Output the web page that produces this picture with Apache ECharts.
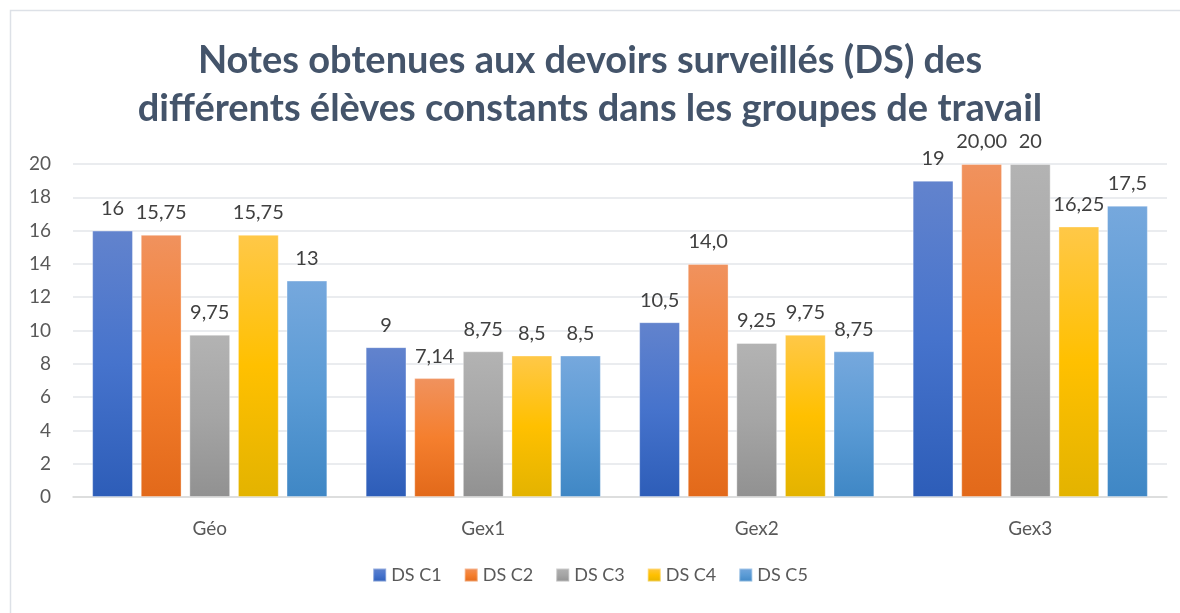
<!DOCTYPE html>
<html>
<head>
<meta charset="utf-8">
<script src="https://cdn.jsdelivr.net/npm/echarts@6/dist/echarts.min.js"></script>
<style>
  html, body { margin: 0; padding: 0; background: #fff; }
  #chart { width: 1180px; height: 613px; }
</style>
</head>
<body>
<div id="chart"></div>
<script>
const categories = ['Géo', 'Gex1', 'Gex2', 'Gex3']
const seriesNames = ['DS C1', 'DS C2', 'DS C3', 'DS C4', 'DS C5']
const dsC1 = [16, 9, 10.5, 19]
const dsC2 = [15.75, 7.14, 14.0, 20.0]
const dsC3 = [9.75, 8.75, 9.25, 20]
const dsC4 = [15.75, 8.5, 9.75, 16.25]
const dsC5 = [13, 8.5, 8.75, 17.5]
// labels as printed on the chart
const labC1 = ['16', '9', '10,5', '19']
const labC2 = ['15,75', '7,14', '14,0', '20,00']
const labC3 = ['9,75', '8,75', '9,25', '20']
const labC4 = ['15,75', '8,5', '9,75', '16,25']
const labC5 = ['13', '8,5', '8,75', '17,5']
const yTicks = [0, 2, 4, 6, 8, 10, 12, 14, 16, 18, 20]

const values = [dsC1, dsC2, dsC3, dsC4, dsC5]
const labels = [labC1, labC2, labC3, labC4, labC5]

// top / middle / bottom of each bar gradient
const gradients = [
  ['#6283CD', '#4673CC', '#2D5DB8'],
  ['#F0925E', '#F57F2E', '#E2691A'],
  ['#B3B3B3', '#A5A5A5', '#919191'],
  ['#FFC848', '#FFC000', '#E3B300'],
  ['#76A8DD', '#5B9BD5', '#3F87C5'],
]
const legendColors = ['#4472C4', '#ED7D31', '#A5A5A5', '#FFC000', '#5B9BD5']

const chart = echarts.init(document.getElementById('chart'), null, { renderer: 'canvas' })

const series = seriesNames.map((name, i) => ({
  name,
  type: 'bar',
  data: values[i],
  barGap: '19%',
  barCategoryGap: '14%',
  itemStyle: {
    color: new echarts.graphic.LinearGradient(0, 0, 0, 1, [
      { offset: 0, color: gradients[i][0] },
      { offset: 0.5, color: gradients[i][1] },
      { offset: 1, color: gradients[i][2] },
    ]),
    borderColor: 'rgba(255,255,255,0.35)',
    borderWidth: 1,
  },
  label: {
    show: true,
    position: 'top',
    distance: 12,
    color: '#404040',
    fontFamily: 'Lato',
    fontSize: 20,
    formatter: p => labels[i][p.dataIndex],
  },
}))

chart.setOption({
  animation: false,
  color: legendColors,
  graphic: [{
    type: 'rect',
    shape: { x: 10.5, y: 10.5, width: 1200, height: 700 },
    style: { fill: 'none', stroke: '#dde1e7', lineWidth: 1.5 },
    silent: true,
  }],
  title: {
    text: 'Notes obtenues aux devoirs surveillés (DS) des\ndifférents élèves constants dans les groupes de travail',
    left: 'center',
    top: 32,
    textStyle: {
      fontFamily: 'Lato',
      fontWeight: 'bold',
      fontSize: 38,
      lineHeight: 48,
      color: '#44546A',
    },
  },
  legend: {
    bottom: 24,
    left: 'center',
    itemWidth: 13,
    itemHeight: 13,
    itemGap: 22,
    icon: 'rect',
    textStyle: { fontFamily: 'Lato', fontSize: 18, color: '#595959' },
    data: seriesNames,
  },
  grid: { left: 73, right: 13, top: 164, bottom: 116 },
  xAxis: {
    type: 'category',
    data: categories,
    axisTick: { show: false },
    axisLine: { lineStyle: { color: '#d9d9d9', width: 1.5 } },
    axisLabel: { fontFamily: 'Lato', fontSize: 19, color: '#595959', margin: 22 },
  },
  yAxis: {
    type: 'value',
    min: yTicks[0],
    max: yTicks[yTicks.length - 1],
    interval: 2,
    axisLine: { show: false },
    axisTick: { show: false },
    splitLine: { lineStyle: { color: '#e3e6ea', width: 1.5 } },
    axisLabel: { fontFamily: 'Lato', fontSize: 19, color: '#595959', margin: 22 },
  },
  series,
})
</script>
</body>
</html>
